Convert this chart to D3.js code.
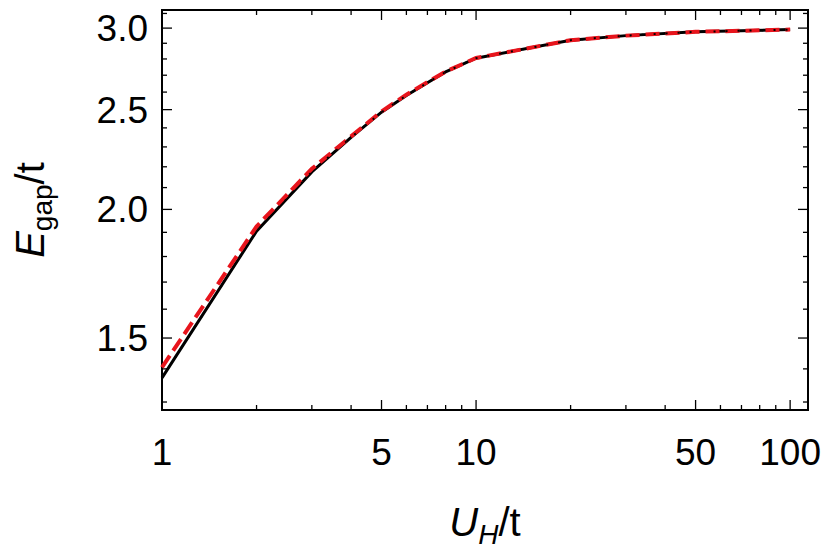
<!DOCTYPE html><html><head><meta charset="utf-8"><script src="https://cdn.jsdelivr.net/npm/d3@7"></script>
<style>body{margin:0;background:#fff}</style></head><body><svg id="c" width="830" height="558"></svg>
<script>
const xVals=[1,2,3,4,5,6,7,8,10,20,30,50,100];
const blackY=[1.372,1.905,2.175,2.35,2.486,2.58,2.655,2.72,2.805,2.92,2.95,2.975,2.99];
const redY=[1.405,1.925,2.19,2.355,2.49,2.585,2.658,2.722,2.806,2.92,2.95,2.975,2.99];
const xTicks=[1,5,10,50,100];
const yTicks=[1.5,2.0,2.5,3.0];
const svg=d3.select("#c");
const L=162,R=808,T=10,B=410;
const x=d3.scaleLog().domain([1,114]).range([L,R]);
const y=d3.scaleLog().domain([1.277,3.124]).range([B,T]);
const f="Liberation Sans, Arial, sans-serif";
const g=svg.append("g");
const xm=[];for(let d=1;d<=100;d*=10)for(let k=1;k<10;k++){const v=d*k;if(v<=114)xm.push(v);}
xm.forEach(v=>{const big=xTicks.includes(v);const len=big?10:5;
 g.append("line").attr("x1",x(v)).attr("x2",x(v)).attr("y1",B).attr("y2",B-len).attr("stroke","#000").attr("stroke-width",1.3);
 g.append("line").attr("x1",x(v)).attr("x2",x(v)).attr("y1",T).attr("y2",T+len).attr("stroke","#000").attr("stroke-width",1.3);});
const ym=d3.range(13,32).map(v=>v/10);
ym.forEach(v=>{const big=yTicks.some(t=>Math.abs(t-v)<1e-9);const len=big?10:5;
 g.append("line").attr("y1",y(v)).attr("y2",y(v)).attr("x1",L).attr("x2",L+len).attr("stroke","#000").attr("stroke-width",1.3);
 g.append("line").attr("y1",y(v)).attr("y2",y(v)).attr("x1",R).attr("x2",R-len).attr("stroke","#000").attr("stroke-width",1.3);});
g.append("rect").attr("x",L).attr("y",T).attr("width",R-L).attr("height",B-T).attr("fill","none").attr("stroke","#000").attr("stroke-width",2);
xTicks.forEach(v=>g.append("text").attr("x",x(v)).attr("y",B+55).attr("text-anchor","middle").attr("font-family",f).attr("font-size",37).text(v));
yTicks.forEach(v=>g.append("text").attr("x",L-14).attr("y",y(v)+13).attr("text-anchor","end").attr("font-family",f).attr("font-size",37).text(v.toFixed(1)));
const line=d3.line().x((d,i)=>x(xVals[i])).y(d=>y(d));
g.append("path").attr("d",line(blackY)).attr("fill","none").attr("stroke","#000").attr("stroke-width",3);
g.append("path").attr("d",line(redY)).attr("fill","none").attr("stroke","#e8141c").attr("stroke-width",4).attr("stroke-dasharray","14,6");
g.append("path").attr("d",line(blackY)).attr("fill","none").attr("stroke","#000").attr("stroke-width",2).attr("stroke-dasharray","2,10");
const xl=g.append("text").attr("x",485).attr("y",536).attr("text-anchor","middle").attr("font-family",f).attr("font-size",40);
xl.append("tspan").attr("font-style","italic").text("U");
xl.append("tspan").attr("font-style","italic").attr("font-size",28).attr("dy",8).text("H");
xl.append("tspan").attr("dy",-8).text("/t");
const yl=g.append("text").attr("transform","translate(44,210) rotate(-90)").attr("text-anchor","middle").attr("font-family",f).attr("font-size",40);
yl.append("tspan").attr("font-style","italic").text("E");
yl.append("tspan").attr("font-size",28).attr("dy",8).text("gap");
yl.append("tspan").attr("dy",-8).text("/t");
</script></body></html>
